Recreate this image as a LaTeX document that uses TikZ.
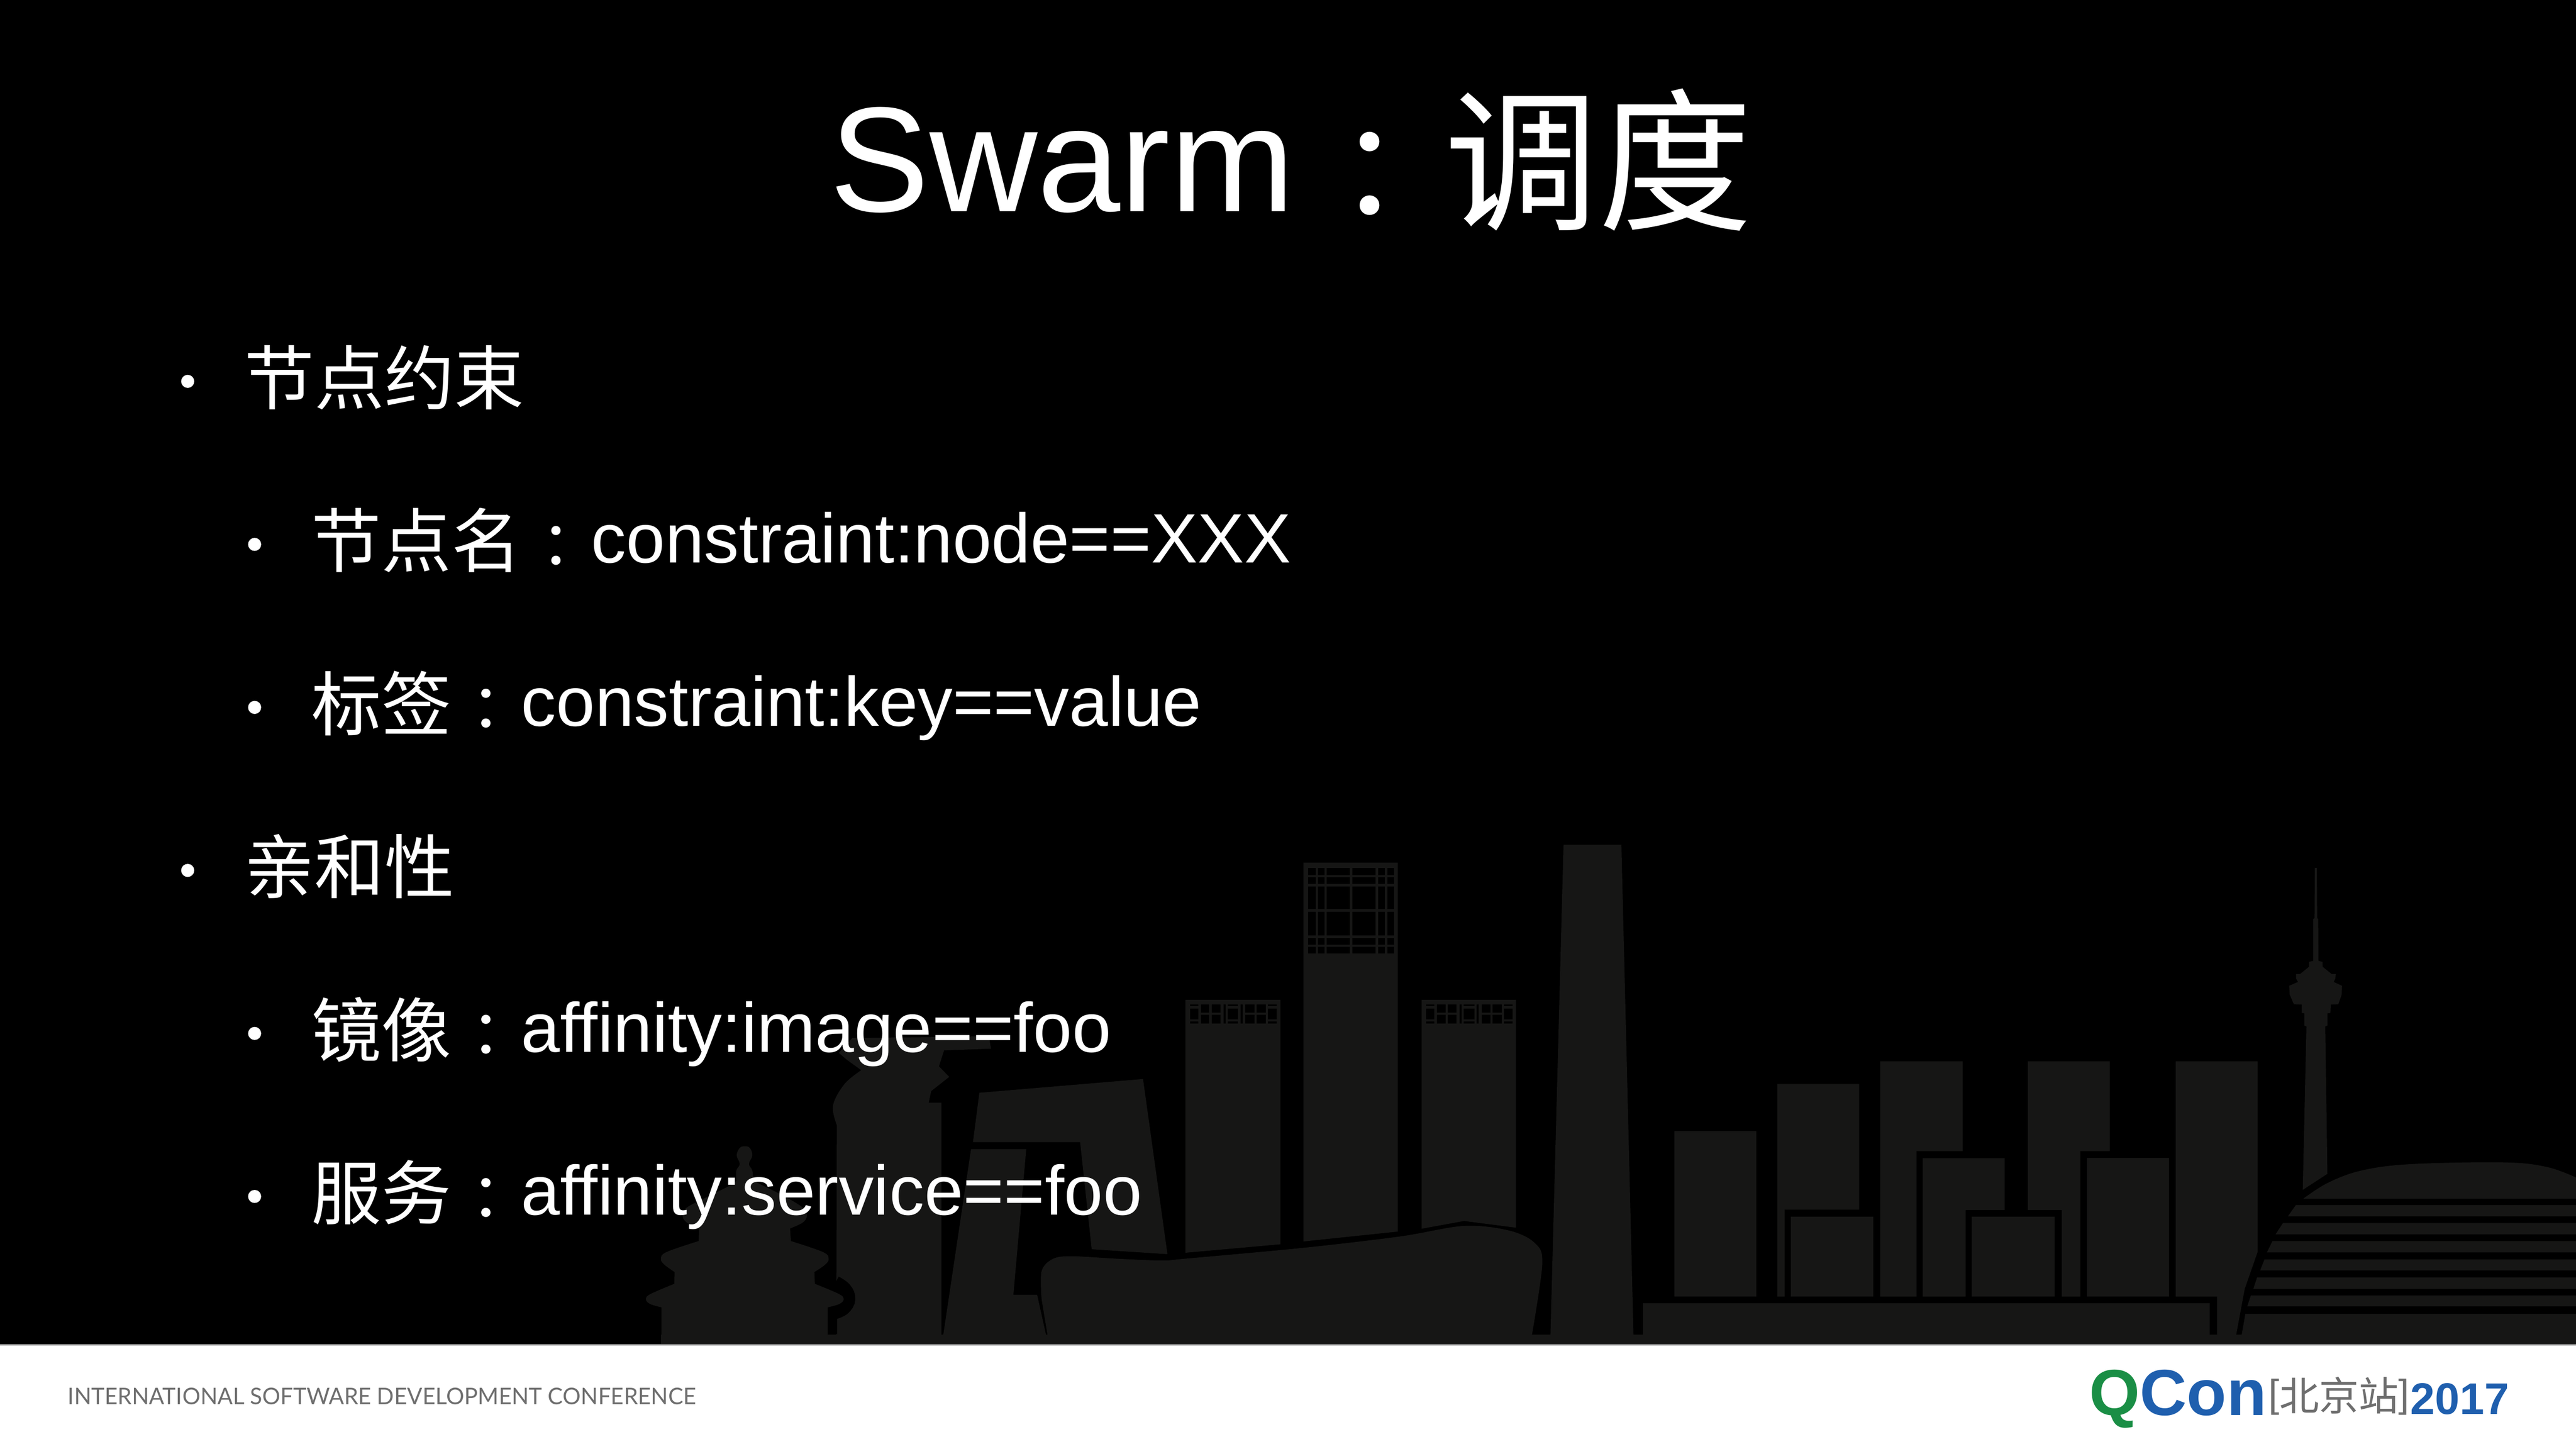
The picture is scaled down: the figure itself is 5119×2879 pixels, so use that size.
\documentclass[tikz,border=0pt]{standalone}
\usepackage{fontspec}
\setmainfont{Liberation Sans}
\newfontfamily\cjsc{Noto Sans CJK SC}
\newfontfamily\cjtc[Scale=0.87]{Noto Sans CJK TC}
\newfontfamily\lato{Lato}
\definecolor{city}{HTML}{161615}
\definecolor{footgray}{HTML}{6E6E6E}
\definecolor{qgreen}{HTML}{1A8E45}
\definecolor{qblue}{HTML}{1F5FAE}
\newcommand\cn[1]{\raisebox{-0.8pt}{\cjsc #1}}
\newcommand\cc{\makebox[1em][c]{\raisebox{-0.075em}{\cjtc ：}}}
\tikzset{
  bldg/.style={fill=city,draw=none},
  hole/.style={fill=black,draw=none},
  bodytext/.style={anchor=base west,inner sep=0pt,text=white,font=\fontsize{13.9}{13.9}\selectfont},
  titletext/.style={anchor=base west,inner sep=0pt,text=white,font=\fontsize{29.7}{29.7}\selectfont},
  logotext/.style={anchor=base west,inner sep=0pt},
  zoomA/.style={shift={(1200,1600)},xscale=1.2755,yscale=0.7018},
  zoomB/.style={shift={(3200,1600)},xscale=1.224,yscale=0.7018}
}
\begin{document}
\begin{tikzpicture}[x=0.1pt,y=-0.1pt]
\useasboundingbox (0,0) rectangle (5119,2879);
\fill[black] (0,0) rectangle (5119,2674);
\fill[white] (0,2674) rectangle (5119,2879);
% ground strip
\fill[bldg] (1314,2653) rectangle (5119,2672);
% tall tower
\fill[bldg] (3107,1679) -- (3222,1679) -- (3246,2654) -- (3081,2654) -- cycle;
% drum tower building
\begin{scope}[zoomA]
\fill[bldg] (362,1510) -- plot[smooth,tension=.6] coordinates {(363,907) (357,851) (375,790) (401,751)}
  -- (379,722) -- (366,702) -- (387,660) -- (600,655) -- (603,690) -- (530,695) -- (522,740) -- (538,770) -- (510,810) -- (506,843) -- (526,843) -- (526,1510) -- cycle;
% CCTV
\fill[bldg] (585,815) -- (840,776) -- (878,1272) -- (760,1258) -- (742,955) -- (575,955) -- cycle;
\fill[bldg] (572,975) -- (658,975) -- (638,1387) -- (675,1387) -- (690,1510) -- (528,1510) -- cycle;
% towers with windows
\fill[bldg] (906,552) -- (1054,552) -- (1054,1244) -- (906,1268) -- cycle;
\fill[bldg] (1090,163) -- (1237,163) -- (1237,1208) -- (1090,1236) -- cycle;
\fill[bldg] (1274,552) -- (1421,552) -- (1421,1197) -- (1340,1178) -- (1274,1200) -- cycle;
% curved building
\fill[bldg] (692,1510) -- plot[smooth,tension=.55] coordinates {(682,1400) (682,1320) (700,1285) (730,1278) (800,1285) (870,1290) (905,1285) (1090,1254) (1240,1222) (1340,1192) (1410,1205) (1450,1240) (1462,1300) (1445,1510)} -- cycle;
\end{scope}
% windows of the high tower
\begin{scope}[shift={(2340,1700)},scale=0.3333]
\foreach \xa/\xb in {778/825,838/878,888/1028,1042/1182,1196/1236,1250/1292}
  \foreach \ya/\yb in {75/118,130/172,185/320,335/478,492/532,545/585}
    \fill[hole] (\xa,\ya) rectangle (\xb,\yb);
\end{scope}
% windows of the two lower towers
\foreach \sx in {2340,2809}{
\begin{scope}[shift={(\sx,1700)},scale=0.3333]
\foreach \xa/\xb in {75/125,300/362,538/590}{
  \fill[hole] (\xa,888) rectangle (\xb,900);
  \fill[hole] (\xa,915) rectangle (\xb,978);
  \fill[hole] (\xa,992) rectangle (\xb,1003);
}
\foreach \xa/\xb in {138/190,205/255,405/458,472/525}{
  \fill[hole] (\xa,888) rectangle (\xb,940);
  \fill[hole] (\xa,952) rectangle (\xb,1003);
}
\fill[hole] (275,888) rectangle (287,1003);
\fill[hole] (377,888) rectangle (388,1003);
\end{scope}}
% pagoda
\begin{scope}[shift={(1250,2200)},scale=0.3333]
\draw[black,line width=3.6pt] plot[smooth,tension=.7] coordinates {(1225,1060) (1275,1095) (1295,1145) (1270,1190) (1225,1212)};
\fill[hole] (1185,1190) rectangle (1240,1355);
\fill[bldg] (193,1413) -- (193,1195) -- plot[smooth,tension=.6] coordinates {(193,1195) (125,1175) (100,1145) (130,1115) (270,1055)}
  -- (272,985) -- plot[smooth,tension=.6] coordinates {(272,985) (210,940) (190,905) (225,865) (415,800)}
  -- (418,725) -- plot[smooth,tension=.6] coordinates {(418,725) (345,690) (320,650) (345,600) (480,530) (600,470) (640,440)}
  -- plot[smooth,tension=.7] coordinates {(640,440) (640,380) (660,340) (642,290) (660,245) (690,235) (720,245) (735,290) (715,340) (735,380) (740,440)}
  -- plot[smooth,tension=.6] coordinates {(740,440) (800,470) (920,530) (1035,600) (1060,650) (1035,690) (960,725)}
  -- (965,800) -- plot[smooth,tension=.6] coordinates {(965,800) (1155,865) (1190,905) (1170,940) (1105,985)}
  -- (1108,1055) -- plot[smooth,tension=.6] coordinates {(1108,1055) (1250,1115) (1280,1145) (1255,1175) (1185,1195)}
  -- (1185,1413) -- cycle;
\end{scope}
% TV tower
\begin{scope}[shift={(4450,1700)},scale=0.3333]
\fill[bldg] (450,75) -- (462,75) -- (464,375) -- (470,380) -- (472,630) -- (495,635) -- (497,665) -- (550,708) -- (575,708) -- (572,735) -- (562,755) -- (612,778) -- (610,830) -- (590,888) -- (545,890) -- (543,940) -- (525,942) -- (525,1015) -- (512,1020) -- (525,1899) -- (378,1995) -- (400,1020) -- (387,1015) -- (387,942) -- (372,940) -- (372,890) -- (325,888) -- (300,830) -- (297,778) -- (350,755) -- (338,735) -- (338,708) -- (362,708) -- (415,665) -- (415,635) -- (440,630) -- (440,380) -- (448,375) -- cycle;
\end{scope}
% right cluster
\begin{scope}[zoomB]
\fill[bldg] (104,924) rectangle (237,1392);
\fill[bldg] (271,790) -- (404,790) -- (404,1146) -- (283,1146) -- (283,1392) -- (271,1392) -- cycle;
\fill[bldg] (293,1166) rectangle (427,1392);
\fill[bldg] (438,726) -- (572,726) -- (572,980) -- (497,980) -- (497,1392) -- (438,1392) -- cycle;
\fill[bldg] (507,1000) -- (640,1000) -- (640,1147) -- (577,1147) -- (577,1392) -- (507,1392) -- cycle;
\fill[bldg] (587,1166) rectangle (721,1392);
\fill[bldg] (678,726) -- (811,726) -- (811,980) -- (763,980) -- (763,1392) -- (733,1392) -- (733,1147) -- (678,1147) -- cycle;
\fill[bldg] (774,1000) rectangle (907,1392);
\fill[bldg] (918,726) -- (1051,726) -- (1051,1265) -- (1030,1370) -- (1015,1510) -- (985,1510) -- (985,1392) -- (918,1392) -- cycle;
\fill[bldg] (53,1411) rectangle (973,1510);
% dome
\fill[bldg] plot[smooth,tension=.6] coordinates {(1125,1115) (1165,1070) (1220,1035) (1300,1017) (1450,1012) (1520,1025) (1568,1055)} -- (1568,1115) -- cycle;
\foreach \ya/\yb/\xa/\xb in {1133/1165/1113/1100,1184/1216/1092/1080,1235/1267/1075/1066,1287/1318/1062/1055,1338/1370/1050/1044,1389/1420/1040/1034,1441/1510/1031/1024}
  \fill[bldg] (\xa,\ya) -- (1568,\ya) -- (1568,\yb) -- (\xb,\yb) -- cycle;
\end{scope}
% footer rule
\fill[black!50] (0,2671) rectangle (5119,2674);
% title
\node (title) [titletext] at (1647,420) {Swarm\cc\raisebox{-1.5pt}{\cjsc\fontsize{30.6}{30.6}\selectfont 调度}};
% bullets
\foreach \bx/\by in {373/758,506/1082,506/1406,373/1730,506/2054,506/2378}
  \fill[white] (\bx,\by) circle (1.3pt);
% body
\node (l1) [bodytext] at (484,795) {\cn{节点约束}};
\node (l2) [bodytext] at (617,1119) {\cn{节点名}\cc constraint:node==XXX};
\node (l3) [bodytext] at (617,1443) {\cn{标签}\cc constraint:key==value};
\node (l4) [bodytext] at (484,1767) {\cn{亲和性}};
\node (l5) [bodytext] at (617,2091) {\cn{镜像}\cc affinity:image==foo};
\node (l6) [bodytext] at (617,2415) {\cn{服务}\cc affinity:service==foo};
% footer
\node (foot) [logotext,text=footgray] at (133,2791) {\resizebox{124.8pt}{3.3pt}{\lato INTERNATIONAL SOFTWARE DEVELOPMENT CONFERENCE}};
\node (qcon) [logotext] at (4150,2813) {\resizebox{35.2pt}{!}{\textbf{\textcolor{qgreen}{Q}\textcolor{qblue}{Con}}}};
\node (bj) [logotext,text=footgray,font=\fontsize{7.7}{7.7}\selectfont] at (4506,2796) {[\raisebox{-0.8pt}{\cjsc\fontsize{7.9}{7.9}\selectfont 北京站}]};
\node (yr) [logotext,text=qblue,font=\fontsize{8.8}{8.8}\selectfont\bfseries] at (4788,2811) {2017};
\end{tikzpicture}
\end{document}
